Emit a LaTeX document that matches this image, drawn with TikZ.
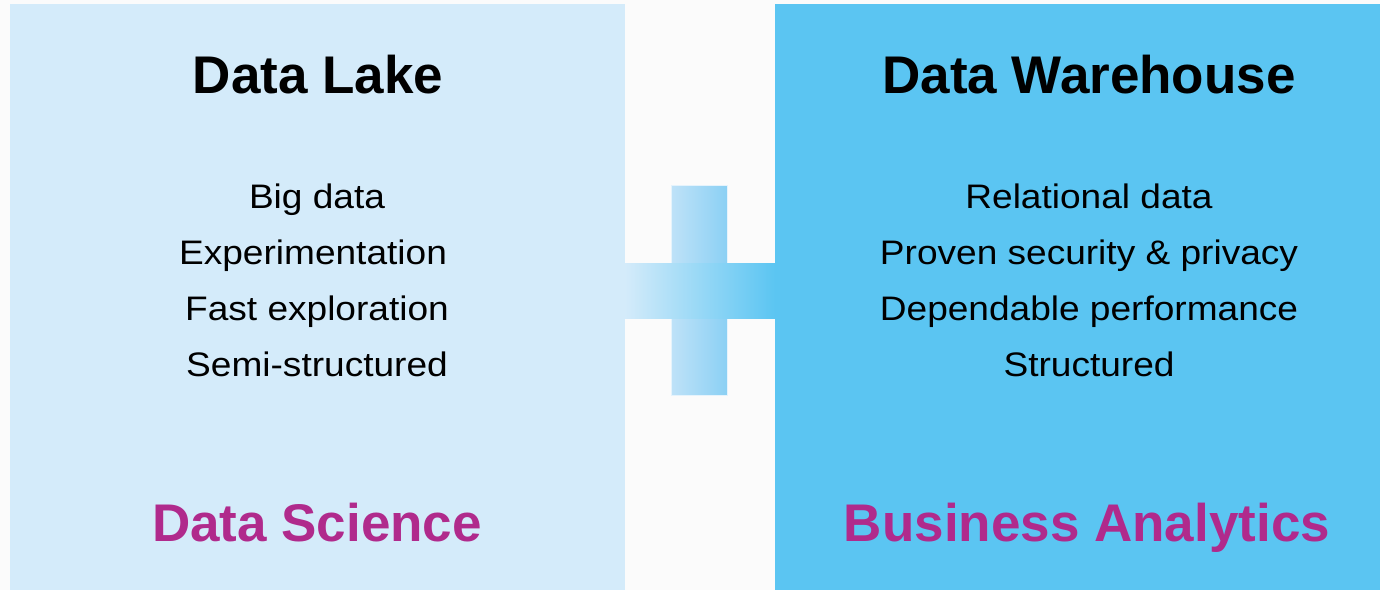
\documentclass[tikz,border=0pt]{standalone}
\usepackage{fontspec}
\setmainfont{Liberation Sans}
\newfontfamily\itemfont[FakeStretch=1.09]{Liberation Sans}
\usetikzlibrary{positioning}

\definecolor{lakeblue}{HTML}{D4EBFA}
\definecolor{houseblue}{HTML}{5BC5F2}
\definecolor{plusmid1}{HTML}{BFE2F8}
\definecolor{plusmid2}{HTML}{8BD0F4}
\definecolor{usemagenta}{HTML}{B02A8C}
\definecolor{backgray}{HTML}{FBFBFB}

\tikzset{
  panel/.style={rectangle, inner sep=0, outer sep=0},
  title/.style={anchor=base, inner sep=0, font=\fontsize{26.5}{30}\selectfont\bfseries},
  item/.style={inner sep=0, text height=12.5pt, text depth=4.5pt, font=\itemfont\fontsize{17}{20}\selectfont},
  usage/.style={anchor=base, inner sep=0, text=usemagenta, font=\fontsize{26.5}{30}\selectfont\bfseries}
}

\begin{document}
\begin{tikzpicture}[x=0.5pt, y=-0.5pt, node distance=28pt]
    \fill [backgray] (0,0) rectangle (1380,590);
    \useasboundingbox (0,0) rectangle (1380,590);

    % Panels
    \node [panel, fill=lakeblue, minimum width=307.5pt, minimum height=293pt] (lake) at (317.5,297) {};
    \node [panel, fill=houseblue, minimum width=302.5pt, minimum height=293pt] (house) at (1077.5,297) {};

    % Plus sign
    \node [panel, left color=plusmid1, right color=plusmid2, draw=lakeblue!60!white, line width=0.5pt,
           minimum width=28pt, minimum height=105pt] (plusv) at (699,290) {};
    \node [panel, left color=lakeblue, right color=houseblue,
           minimum width=75pt, minimum height=27.5pt] (plush) at (700,290.5) {};

    % Data Lake
    \node [title] (laketitle) at (318,93) {Data Lake};
    \node [item] (big) at (317,200) {Big data};
    \node [item, below of=big, xshift=-2pt] (exp) {Experimentation};
    \node [item, below of=exp, xshift=2pt] (fast) {Fast exploration};
    \node [item, below of=fast] (semi) {Semi-structured};
    \node [usage] (science) at (317,541) {Data Science};

    % Data Warehouse
    \node [title] (housetitle) at (1089,93) {Data Warehouse};
    \node [item] (rel) at (1089,200) {Relational data};
    \node [item, below of=rel] (sec) {Proven security \& privacy};
    \node [item, below of=sec] (perf) {Dependable performance};
    \node [item, below of=perf] (struct) {Structured};
    \node [usage] (business) at (1087,541) {Business Analytics};
\end{tikzpicture}
\end{document}
